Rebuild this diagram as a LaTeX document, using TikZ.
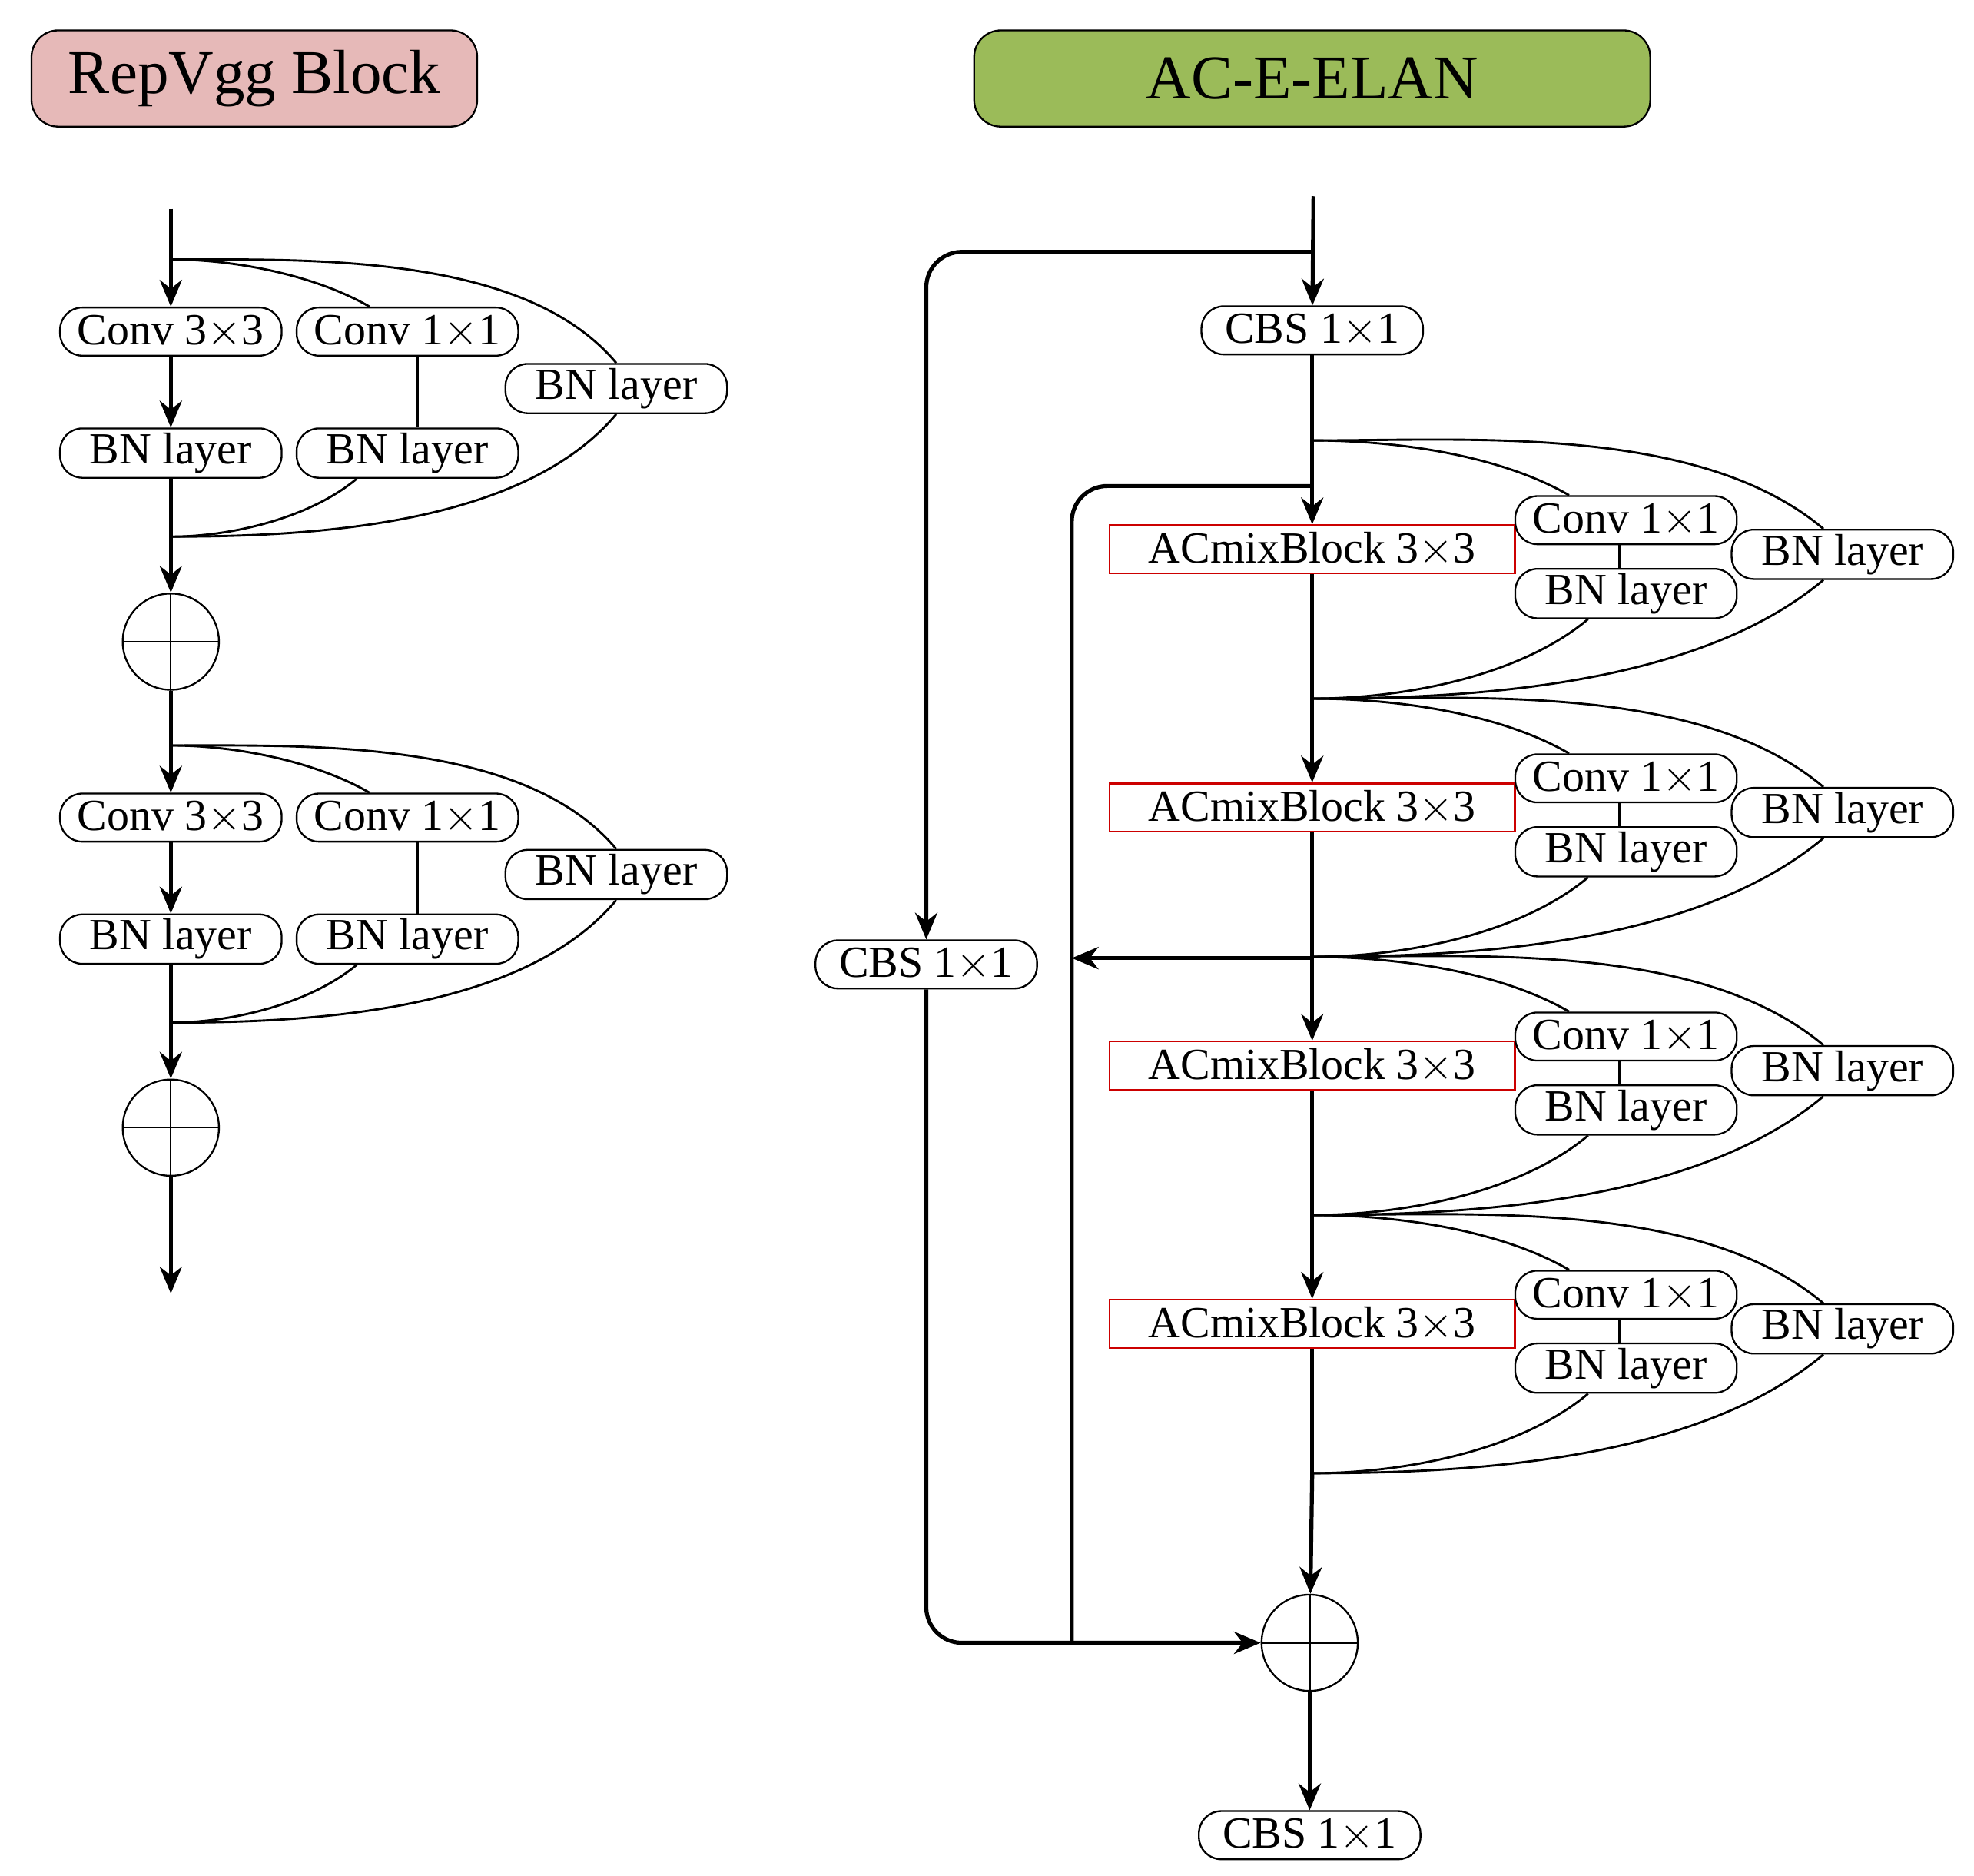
\documentclass[tikz,border=0pt]{standalone}
\usepackage{fontspec}
\setmainfont{Liberation Serif}
\usetikzlibrary{arrows.meta,calc}
\definecolor{titlepink}{HTML}{E6B9B8}
\definecolor{titlegreen}{HTML}{9BBB59}
\tikzstyle{title} = [draw, rounded corners=6pt, minimum height=0.76cm, font=\fontsize{14}{16}\selectfont]
\tikzstyle{blk} = [draw, fill=white, rounded corners=5pt, minimum width=1.75cm, minimum height=0.38cm, inner sep=1pt, font=\fontsize{10}{12}\selectfont]
\tikzstyle{acm} = [draw=red!80!black, fill=white, minimum width=3.2cm, minimum height=0.38cm, inner sep=1pt, font=\fontsize{10}{12}\selectfont]
\tikzstyle{plus} = [draw, circle, fill=white, minimum size=0.76cm, inner sep=0pt]
\tikzstyle{flow} = [line width=0.9pt, -{Stealth[length=6pt,width=5pt]}]
\tikzstyle{rail} = [line width=0.9pt]
\tikzstyle{arc} = [line width=0.5pt, looseness=0.8]
\begin{document}
\begin{tikzpicture}[x=0.01cm, y=-0.01cm]
\useasboundingbox (0,0) rectangle (1560,1482);
% titles
\node[title, fill=titlepink, minimum width=3.52cm] (tRep) at (201,62) {RepVgg Block};
\node[title, fill=titlegreen, minimum width=5.34cm] (tAce) at (1037,62) {AC-E-ELAN};
% RepVgg block, two stages
\coordinate (in1) at (135,165);
\foreach \k/\y in {1/0,2/384} {
  \coordinate (split\k) at (135,{205+\y});
  \coordinate (merge\k) at (135,{424+\y});
  \node[blk] (convA\k) at (135,{262+\y}) {Conv 3${\times}$3};
  \node[blk] (convB\k) at (322,{262+\y}) {Conv 1${\times}$1};
  \node[blk] (bnC\k) at (487,{307+\y}) {BN layer};
  \node[blk] (bnA\k) at (135,{358+\y}) {BN layer};
  \node[blk] (bnB\k) at (322,{358+\y}) {BN layer};
  \draw[arc] (split\k) to[out=0,in=150] ([xshift=-0.3cm]convB\k.north);
  \draw[arc] ([xshift=0.08cm]convB\k.south) to[out=-90,in=90] ([xshift=0.08cm]bnB\k.north);
  \draw[arc] ([xshift=-0.4cm]bnB\k.south) to[out=-140,in=0] (merge\k);
  \draw[arc] (split\k) to[out=0,in=130] (bnC\k.north);
  \draw[arc] (bnC\k.south) to[out=-130,in=0] (merge\k);
  \node[plus] (plus\k) at (135,{507+\y}) {};
  \draw (plus\k.north) -- (plus\k.south) (plus\k.west) -- (plus\k.east);
  \draw[flow] (split\k) -- (convA\k);
  \draw[flow] (convA\k) -- (bnA\k);
  \draw[rail] (bnA\k) -- (merge\k);
  \draw[flow] (merge\k) -- (plus\k);
}
\draw[rail] (in1) -- (split1);
\draw[rail] (plus1) -- (split2);
\coordinate (out1) at (135,1022);
\draw[flow] (plus2) -- (out1);
% AC-E-ELAN
\coordinate (in2) at (1038,155);
\coordinate (tap1) at (1038,199);
\coordinate (tap2) at (1037,384);
\coordinate (tap3) at (1037,757);
\coordinate (rail2) at (847,757);
\coordinate (join) at (847,1298);
\node[blk] (cbs1) at (1037,261) {CBS 1${\times}$1};
\node[blk] (cbsL) at (732,762) {CBS 1${\times}$1};
\foreach \j/\y in {1/0,2/204,3/408,4/612} {
  \coordinate (sp\j) at (1037,{348+\y});
  \coordinate (mg\j) at (1037,{552+\y});
  \node[acm] (acm\j) at (1037,{434+\y}) {ACmixBlock 3${\times}$3};
  \node[blk] (cv\j) at (1285,{411+\y}) {Conv 1${\times}$1};
  \node[blk] (bn\j) at (1285,{469+\y}) {BN layer};
  \node[blk] (bnR\j) at (1456,{438+\y}) {BN layer};
  \draw[arc] (sp\j) to[out=0,in=150] ([xshift=-0.45cm]cv\j.north);
  \draw[arc] ([xshift=-0.05cm]cv\j.south) -- ([xshift=-0.05cm]bn\j.north);
  \draw[arc] ([xshift=-0.3cm]bn\j.south) to[out=-140,in=0] (mg\j);
  \draw[arc] (sp\j) to[out=0,in=140] ([xshift=-0.15cm]bnR\j.north);
  \draw[arc] ([xshift=-0.15cm]bnR\j.south) to[out=-140,in=0] (mg\j);
  \draw[flow] (sp\j) -- (acm\j);
  \draw[rail] (acm\j) -- (mg\j);
}
\node[plus] (plusR) at (1035,1298) {};
\draw (plusR.north) -- (plusR.south) (plusR.west) -- (plusR.east);
\node[blk] (cbs2) at (1035,1450) {CBS 1${\times}$1};
\draw[flow] (in2) -- (cbs1);
\draw[rail] (cbs1) -- (sp1);
\draw[flow] (mg4) -- (plusR);
\draw[flow] (plusR) -- (cbs2);
\draw[flow, rounded corners=8pt] (tap1) -| (cbsL);
\draw[flow, rounded corners=8pt] (cbsL) |- (plusR);
\draw[rail, rounded corners=8pt] (tap2) -| (join);
\draw[flow] (tap3) -- (rail2);
\end{tikzpicture}
\end{document}
